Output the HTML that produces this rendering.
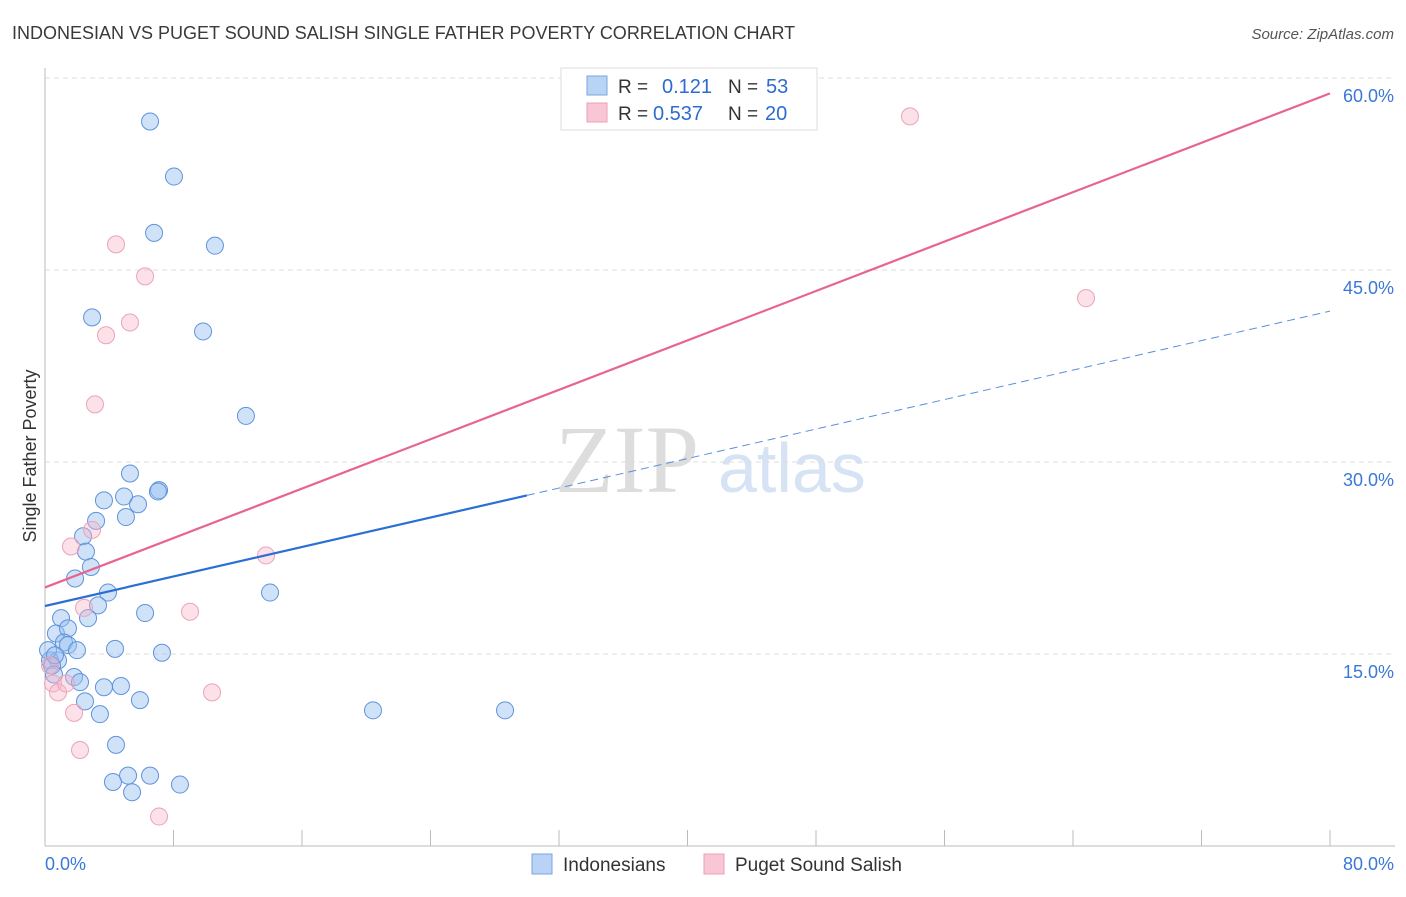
<!DOCTYPE html>
<html><head><meta charset="utf-8"><style>
body{margin:0;background:#fff;font-family:"Liberation Sans",sans-serif;}
</style></head><body>
<svg id="c" width="1406" height="892" xmlns="http://www.w3.org/2000/svg">
<text x="12" y="39" font-size="18" fill="#3a3a3a">INDONESIAN VS PUGET SOUND SALISH SINGLE FATHER POVERTY CORRELATION CHART</text>
<text x="1394" y="39" font-size="15" fill="#555" font-style="italic" text-anchor="end">Source: ZipAtlas.com</text>
<text x="36" y="456" font-size="18" fill="#333" text-anchor="middle" transform="rotate(-90 36 456)">Single Father Poverty</text>
<text x="555" y="492" font-size="96" fill="#ddd" font-family="Liberation Serif,serif">ZIP</text>
<text x="718" y="492" font-size="70" fill="#d6e3f5">atlas</text>
<g id="grid"></g><g id="pts"></g><g id="lines"></g>
<g>
<rect x="561" y="68" width="256" height="62" fill="#fff" stroke="#ddd"/>
<rect x="587" y="76" width="20" height="19" fill="#b9d3f5" stroke="#7aa6e0"/>
<rect x="587" y="103" width="20" height="19" fill="#f8c6d4" stroke="#eaa0b8"/>
<text x="618" y="93" font-size="19" fill="#333">R = </text><text x="662" y="93" font-size="20" fill="#2e6bd0">0.121</text>
<text x="728" y="93" font-size="19" fill="#333">N = </text><text x="766" y="93" font-size="20" fill="#2e6bd0">53</text>
<text x="618" y="120" font-size="19" fill="#333">R = </text><text x="653" y="120" font-size="20" fill="#2e6bd0">0.537</text>
<text x="728" y="120" font-size="19" fill="#333">N = </text><text x="765" y="120" font-size="20" fill="#2e6bd0">20</text>
</g>
<g>
<rect x="532" y="854" width="20" height="20" fill="#b9d3f5" stroke="#7aa6e0"/>
<text x="563" y="871" font-size="19" fill="#333">Indonesians</text>
<rect x="704" y="854" width="20" height="20" fill="#f8c6d4" stroke="#eaa0b8"/>
<text x="735" y="871" font-size="19" fill="#333">Puget Sound Salish</text>
</g>
<text x="45" y="870" font-size="18" fill="#3a78d8">0.0%</text>
<text x="1394" y="870" font-size="18" fill="#3a78d8" text-anchor="end">80.0%</text>
</svg>
<script>
const blueX=[6.54,8.03,6.79,10.58,2.93,9.84,12.51,5.29,7.10,7.03,3.67,4.92,5.79,3.18,5.04,2.37,2.55,2.86,1.87,3.92,3.30,6.23,2.68,1.00,14.01,0.68,1.43,1.18,1.43,1.99,4.36,7.28,0.31,0.81,0.44,0.56,1.81,2.18,3.67,4.73,5.91,2.49,3.42,20.42,28.64,4.42,5.17,6.54,4.23,8.40,5.42,0.19,0.62];
const blueY=[56.6,52.3,47.9,46.9,41.3,40.2,33.6,29.1,27.8,27.7,27.0,27.3,26.7,25.4,25.7,24.2,23.0,21.8,20.9,19.8,18.8,18.2,17.8,17.8,19.8,16.6,17.0,15.9,15.7,15.3,15.4,15.1,14.5,14.5,14.1,13.4,13.2,12.8,12.4,12.5,11.4,11.3,10.3,10.6,10.6,7.9,5.5,5.5,5.0,4.8,4.2,15.3,14.9];
const pinkX=[53.85,64.81,4.42,6.23,5.29,3.80,3.11,1.62,2.93,2.43,9.03,13.76,10.40,0.50,0.81,1.31,1.81,2.18,7.10,0.31];
const pinkY=[57.0,42.8,47.0,44.5,40.9,39.9,34.5,23.4,24.7,18.6,18.3,22.7,12.0,12.7,12.0,12.7,10.4,7.5,2.3,14.1];
const blueTrend=[18.75,0.288];
const pinkTrend=[20.2,0.4825];
const yTicks=[15,30,45,60];
const xTickVals=[0,8,16,24,32,40,48,56,64,72,80];
const sx=v=>45+v*1285/80, sy=v=>846-v*12.8;
const NS='http://www.w3.org/2000/svg';
function mk(tag,attrs,parent){const e=document.createElementNS(NS,tag);for(const k in attrs)e.setAttribute(k,attrs[k]);parent.appendChild(e);return e;}
const grid=document.getElementById('grid'),pts=document.getElementById('pts'),lines=document.getElementById('lines');
yTicks.forEach(t=>{
 const l=mk('line',{x1:45,x2:1395,y1:sy(t),y2:sy(t),stroke:'#ddd','stroke-dasharray':'5,4'},grid);
 
 
 const tx=mk('text',{x:1394,y:sy(t)+24,'font-size':18,fill:'#3a78d8','text-anchor':'end'},grid);
 tx.textContent=t.toFixed(1)+'%';
 
 
});
let ax=mk('line',{x1:45,x2:45,y1:68,y2:846,stroke:'#bbb'},grid);


let bx=mk('line',{x1:45,x2:1395,y1:846,y2:846,stroke:'#bbb'},grid);


xTickVals.forEach(t=>{
 const l=mk('line',{x1:sx(t),x2:sx(t),y1:830,y2:846,stroke:'#bbb'},grid);
 
 
});
blueX.forEach((x,i)=>{
 const c=mk('circle',{cx:sx(x),cy:sy(blueY[i]),r:8.5,fill:'rgba(150,190,240,0.45)',stroke:'#5f93dc','stroke-width':1},pts);
 
 
});
pinkX.forEach((x,i)=>{
 const c=mk('circle',{cx:sx(x),cy:sy(pinkY[i]),r:8.5,fill:'rgba(248,180,200,0.4)',stroke:'#eba3b9','stroke-width':1},pts);
 
 
});
const bf=x=>blueTrend[0]+blueTrend[1]*x, pf=x=>pinkTrend[0]+pinkTrend[1]*x;
let l1=mk('line',{x1:sx(0),y1:sy(pf(0)),x2:sx(80),y2:sy(pf(80)),stroke:'#e8648f','stroke-width':2.2},lines);


let l2=mk('line',{x1:sx(0),y1:sy(bf(0)),x2:sx(30),y2:sy(bf(30)),stroke:'#2a6fd6','stroke-width':2.2},lines);


let l3=mk('line',{x1:sx(30),y1:sy(bf(30)),x2:sx(80),y2:sy(bf(80)),stroke:'#5a8fdc','stroke-width':1,'stroke-dasharray':'8,5'},lines);


</script>
</body></html>
